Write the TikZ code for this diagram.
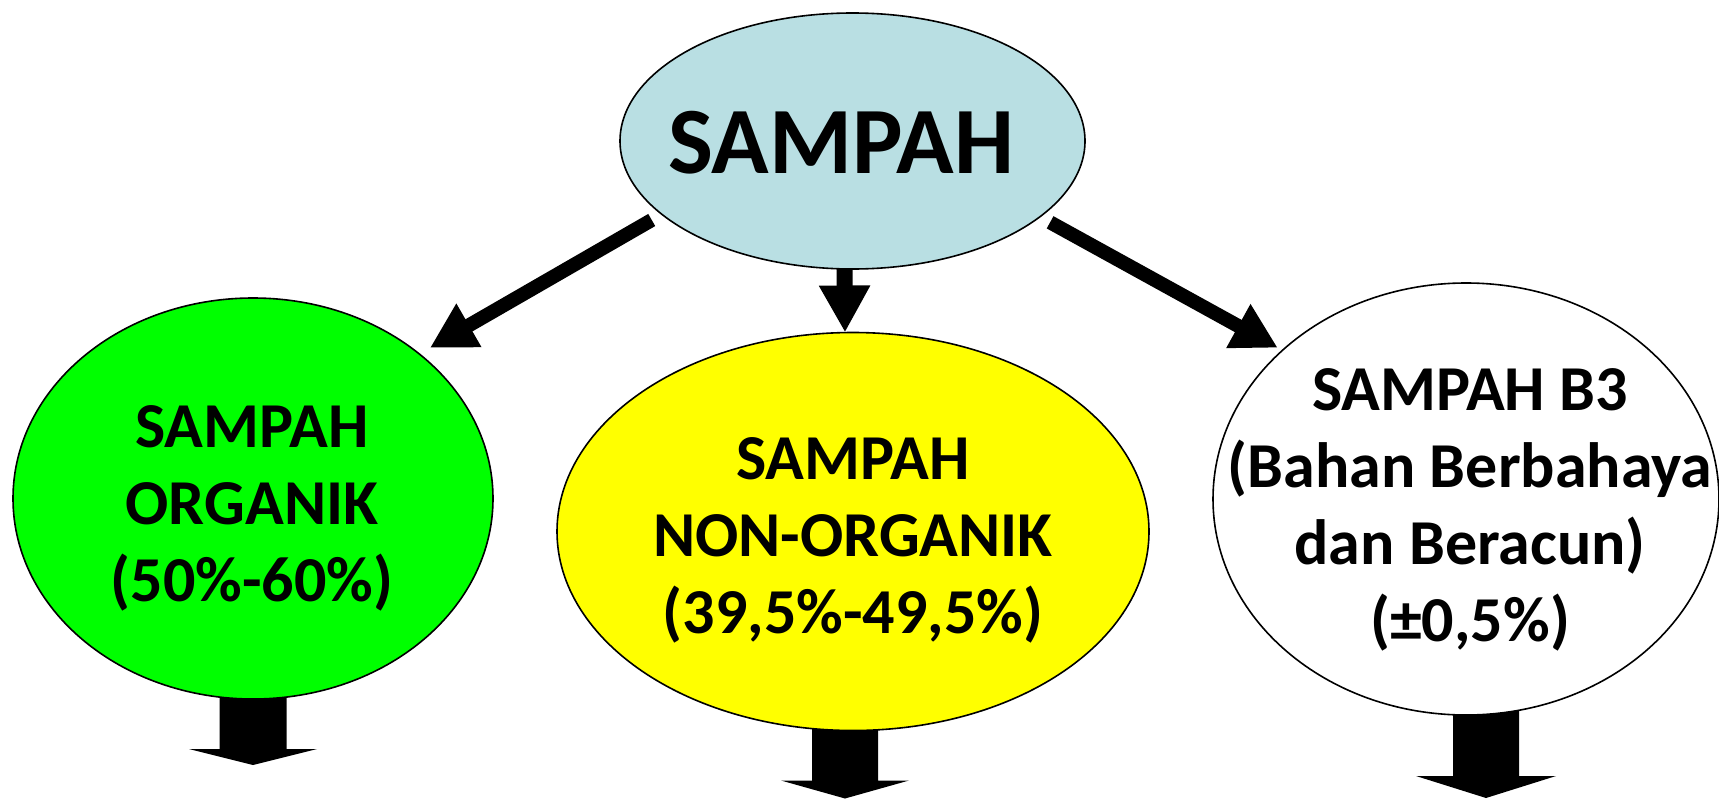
\documentclass[tikz,border=0pt]{standalone}
\usepackage{fontspec}
\setmainfont{Carlito}
\usetikzlibrary{arrows.meta,shapes.geometric,backgrounds}
\definecolor{ltblue}{RGB}{185,223,227}
\definecolor{brgreen}{RGB}{0,255,0}
\definecolor{brylw}{RGB}{255,255,0}
\tikzset{
  blob/.style={ellipse,draw=black,line width=1.6pt,inner sep=0pt,outer sep=0pt},
  lbl/.style={font=\bfseries\fontsize{64}{77}\selectfont,align=center,inner sep=0pt},
  fat/.style={line width=14pt,-{Triangle[width=47pt,length=45pt]}},
}
\begin{document}
\begin{tikzpicture}[x=1pt,y=-1pt]
\useasboundingbox (0,0) rectangle (1719,798);

%Shape: Ellipse
\node[blob,fill=ltblue,minimum width=465pt,minimum height=256pt] (top) at (852.5,141) {};
%Shape: Ellipse
\node[blob,fill=brgreen,minimum width=480pt,minimum height=401pt] (organik) at (253,498.5) {};
%Shape: Ellipse
\node[blob,fill=brylw,minimum width=592pt,minimum height=398pt] (nonorg) at (853,531.5) {};
%Shape: Ellipse
\node[blob,fill=white,minimum width=506pt,minimum height=432pt] (b3) at (1466,499) {};

%Down Arrows
\begin{scope}[on background layer]
\fill (organik.south) ++(-33.5,-10) -- ++(0,60) -- ++(-30.5,0) -- ++(64,16) -- ++(64,-16) -- ++(-30.5,0) -- ++(0,-60) -- cycle;
\fill ([xshift=-8pt]nonorg.south) ++(-33,-10) -- ++(0,60) -- ++(-31,0) -- ++(64,18) -- ++(64,-18) -- ++(-31,0) -- ++(0,-60) -- cycle;
\fill ([xshift=20pt]b3.south) ++(-33,-10) -- ++(0,71) -- ++(-37,0) -- ++(70,22) -- ++(70,-22) -- ++(-37,0) -- ++(0,-71) -- cycle;
\end{scope}

%Straight Lines
\draw[fat,shorten <=11.6pt,shorten >=12.3pt] (top.201.4) -- (organik.41);
\draw[line width=16pt,-{Triangle[width=48pt,length=47pt]}] ([xshift=-8pt]top.south) -- ([xshift=-8pt]nonorg.north);
\draw[fat,shorten <=11.6pt,shorten >=5.4pt] (top.338.6) -- (b3.141.1);

% Text Node
\node[font=\bfseries\fontsize{95}{110}\selectfont,inner sep=0pt] (top-txt) at (841,142.5) {SAMPAH};
\node[lbl] (org-txt) at (252,508) {SAMPAH\\ORGANIK\\(50\%-60\%)};
\node[lbl] (non-txt) at (853,540) {SAMPAH\\NON-ORGANIK\\(39,5\%-49,5\%)};
\node[lbl] (b3-txt) at (1470,510) {SAMPAH B3\\(Bahan Berbahaya\\dan Beracun)\\(±0,5\%)};

\end{tikzpicture}
\end{document}
